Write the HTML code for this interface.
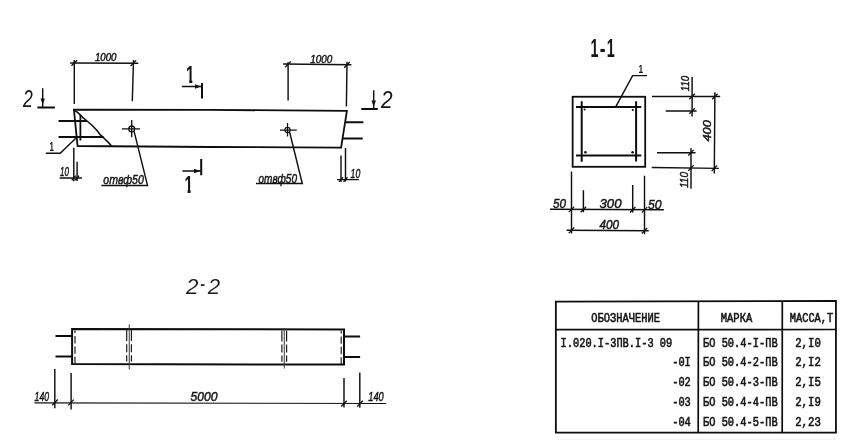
<!DOCTYPE html>
<html lang="ru">
<head>
<meta charset="utf-8">
<title>БО 50.4</title>
<style>
html,body{margin:0;padding:0;background:#fff;}
body{width:855px;height:445px;overflow:hidden;}
svg{display:block;will-change:transform;}
text{font-family:"Liberation Sans",sans-serif;fill:#151515;}
.d{font-style:italic;font-weight:normal;stroke:#151515;stroke-width:0.45;}
.L{font-style:italic;font-weight:normal;}
.m{font-family:"Liberation Mono",monospace;stroke:#151515;stroke-width:0.62;}
.K{stroke:#0d0d0d;stroke-width:2;fill:none;stroke-linecap:butt;}
.T{stroke:#111;stroke-width:1.45;fill:none;}
.t{stroke:#222;stroke-width:1;fill:none;}
</style>
</head>
<body>
<svg width="855" height="445" viewBox="0 0 855 445">
<rect x="0" y="0" width="855" height="445" fill="#fff"/>

<!-- ================= VIEW 1 : side view (top-left) ================= -->
<g id="side">
  <!-- beam outline -->
  <path class="K" d="M341.1,147.6 L210,147 L77.6,146 L73.9,109.6 L210,109.95 L346.9,110.8 Z" style="stroke-width:1.8;stroke-linejoin:miter"/>
  <!-- rebars -->
  <path class="K" d="M58.5,120.9 H87 M58.5,137.1 H103.6 M345.2,122.3 H363.4 M342.6,138.5 H362.7"/>
  <!-- end plate -->
  <path class="K" d="M80.4,115 V140.5" style="stroke-width:1.8"/>
  <!-- break curve -->
  <path class="T" d="M74,109.8 L77.2,112.2 L80.3,114.9 L83.5,118.2 L87,121 L91.7,125 L96.8,130.2 L100.4,134.9 L104,138.2 L108.3,142.4 L111.4,145.8" style="stroke-width:1.6;stroke-linejoin:round"/>
  <!-- holes -->
  <circle cx="131.7" cy="128.9" r="2.9" fill="none" stroke="#111" stroke-width="1.3"/>
  <path class="T" d="M122,128.9 H140 M131.7,119.9 V137.2" style="stroke-width:1.35"/>
  <circle cx="287.5" cy="130" r="2.6" fill="none" stroke="#111" stroke-width="1.1"/>
  <path class="T" d="M280,130 H296.8 M287.5,123 V136.4" style="stroke-width:1.25"/>
  <!-- hole leaders -->
  <path class="T" d="M134.1,131.4 L147.5,185.4 H101.4"/>
  <path class="T" d="M289.6,132 L302.3,183.5 H256"/>
  <!-- leader 1 -->
  <path class="T" d="M75.8,138.2 L60.2,153.3 H45.8"/>
  <!-- dims 1000 left -->
  <path class="T" d="M70.2,63 L138.3,63.3 M74.3,60 V104 M133.5,60 L132.3,101.3"/>
  <path class="T" style="stroke-width:1.3" d="M71.5,65.8 L77.1,60.2 M130.6,66 L136.2,60.4"/>
  <!-- dims 1000 right -->
  <path class="T" d="M283.1,64 L351.4,64.8 M288.1,62.2 V100.4 M347,61.7 L346.4,106.6"/>
  <path class="T" style="stroke-width:1.3" d="M285.2,67.2 L290.8,61.4 M344.2,67.8 L349.8,62"/>
  <!-- dim 10 left -->
  <path class="T" d="M73.8,147.8 V181.2 M77.1,161.7 V181 M59.6,177.9 H81.9"/>
  <path class="T" style="stroke-width:1.3" d="M71.8,180.2 L75.8,175.6 M75.1,180.2 L79.1,175.6"/>
  <!-- dim 10 right -->
  <path class="T" d="M341,155.6 V182 M345.5,148 V181.4 M337.1,179.6 H358.9"/>
  <path class="T" style="stroke-width:1.3" d="M339,181.9 L343,177.3 M343.5,181.9 L347.5,177.3"/>
  <!-- section marks 1 -->
  <path class="K" d="M202,83 V98.6 M201.2,159 V175.3"/>
  <path class="T" d="M181.8,86.5 H201 M182.4,171 H200.5"/>
  <path d="M201.2,86.5 L195,84.3 L195,88.7 Z M200.6,171 L194,168.8 L194,173.2 Z" fill="#111"/>
  <!-- section marks 2 -->
  <path class="K" d="M37.4,107.5 H54.9 M361.3,109.1 H377.8"/>
  <path class="T" d="M42.7,88.3 V107.4 M373.7,90.2 V109"/>
  <path d="M42.7,104.6 L40.5,98.6 L44.9,98.6 Z M373.7,106.6 L371.4,100.4 L376,100.4 Z" fill="#111"/>
  <!-- texts -->
  <text class="d" x="95" y="61" font-size="10.4" textLength="21.5" lengthAdjust="spacingAndGlyphs">1000</text>
  <text class="d" x="310.2" y="62.8" font-size="10.8" textLength="22" lengthAdjust="spacingAndGlyphs">1000</text>
  <text class="d" x="60" y="175.9" font-size="12.6" textLength="8.8" lengthAdjust="spacingAndGlyphs">10</text>
  <text class="d" x="350.6" y="178.3" font-size="12.6" textLength="9.6" lengthAdjust="spacingAndGlyphs">10</text>
  <text class="d" x="103.3" y="183.7" font-size="12" textLength="40.5" lengthAdjust="spacingAndGlyphs">отвф50</text>
  <text class="d" x="258.5" y="182.6" font-size="12" textLength="38.5" lengthAdjust="spacingAndGlyphs">отвф50</text>
  <text x="49.6" y="151" font-size="12.6" font-weight="bold" textLength="4.4" lengthAdjust="spacingAndGlyphs">1</text>
  <text class="L" x="23.1" y="106.9" font-size="24.3" textLength="9.8" lengthAdjust="spacingAndGlyphs">2</text>
  <text class="L" x="380.9" y="107.8" font-size="23.6" textLength="11.6" lengthAdjust="spacingAndGlyphs">2</text>
  <clipPath id="c1"><path d="M180,60 H200 V79.8 H192.3 V86 H189.2 V79.8 H180 Z"/></clipPath>
  <text clip-path="url(#c1)" x="186.1" y="83" font-size="23.3" font-weight="bold" textLength="8.4" lengthAdjust="spacingAndGlyphs">1</text>
  <clipPath id="c2"><path d="M178,170 H198 V190.3 H190.6 V196 H187.6 V190.3 H178 Z"/></clipPath>
  <text clip-path="url(#c2)" x="184.6" y="193.2" font-size="23.3" font-weight="bold" textLength="8.4" lengthAdjust="spacingAndGlyphs">1</text>
</g>

<!-- ================= SECTION 1-1 (top-right) ================= -->
<g id="sec11">
  <text y="57" font-size="25.3" font-weight="bold"><tspan x="590.4" textLength="8" lengthAdjust="spacingAndGlyphs">1</tspan><tspan x="599.7" textLength="5.8" lengthAdjust="spacingAndGlyphs">-</tspan><tspan x="606.8" textLength="8" lengthAdjust="spacingAndGlyphs">1</tspan></text>
  <rect class="K" x="572.65" y="96.75" width="72.55" height="70.05" style="stroke-width:1.8"/>
  <!-- stirrups -->
  <path class="K" d="M576,106.95 H641.3 M576,155.5 H641.3 M581.7,101.2 V161.8 M636.1,101.2 V161.6"/>
  <circle cx="585.4" cy="152.2" r="1.3" fill="#111"/><circle cx="632.6" cy="152.3" r="1.3" fill="#111"/>
  <circle cx="632.8" cy="110" r="1.1" fill="#111"/><circle cx="584.6" cy="109.6" r="1" fill="#111"/>
  <!-- leader -->
  <path class="T" d="M616,106.4 L632.6,75.6 H647"/>
  <text x="638.6" y="73.4" font-size="11.6" font-weight="bold" textLength="4.6" lengthAdjust="spacingAndGlyphs">1</text>
  <!-- right dims -->
  <path class="T" d="M652,96.5 H720.2 M665.7,111 H696.6 M657,152.7 H695.5 M651.7,167.5 L718.8,168.4"/>
  <path class="T" d="M692.1,77 V116.4 M691,148.2 V188.8 M714.9,92.2 L714.3,173.5"/>
  <path class="T" style="stroke-width:1.3" d="M689.4,99.3 L694.8,93.7 M689.4,113.8 L694.8,108.2 M688.3,155.5 L693.7,149.9 M688.3,170.7 L693.7,165.1 M712.2,99.3 L717.6,93.7 M711.6,171.1 L717,165.5"/>
  <text class="d" transform="translate(688.9,91.3) rotate(-90)" font-size="10.6" textLength="15.5" lengthAdjust="spacingAndGlyphs">110</text>
  <text class="d" transform="translate(688.4,188) rotate(-90)" font-size="10.6" textLength="16" lengthAdjust="spacingAndGlyphs">110</text>
  <text class="d" transform="translate(711.2,141.6) rotate(-90)" font-size="10.8" textLength="21.4" lengthAdjust="spacingAndGlyphs">400</text>
  <!-- bottom dims -->
  <path class="T" d="M571.5,171.5 V233.6 M583.4,190.2 V212.2 M632.7,185 V212.6 M644.5,175.7 V234.2"/>
  <path class="T" d="M550,209.3 L663.9,209.8 M566.6,230.2 L648.7,230.7"/>
  <path class="T" style="stroke-width:1.3" d="M568.8,212.1 L574.2,206.6 M580.7,212.2 L586.1,206.7 M630,212.5 L635.4,207 M641.8,212.6 L647.2,207.1 M568.8,233.1 L574.2,227.5 M641.8,233.5 L647.2,228"/>
  <text class="d" x="553" y="208" font-size="12.6" textLength="13" lengthAdjust="spacingAndGlyphs">50</text>
  <text class="d" x="599.5" y="208.4" font-size="12.6" textLength="22" lengthAdjust="spacingAndGlyphs">300</text>
  <text class="d" x="648" y="208.6" font-size="12.6" textLength="13.5" lengthAdjust="spacingAndGlyphs">50</text>
  <text class="d" x="599.4" y="229.4" font-size="12" textLength="19.6" lengthAdjust="spacingAndGlyphs">400</text>
</g>

<!-- ================= VIEW 2-2 (bottom-left) ================= -->
<g id="sec22">
  <text class="L" y="293.6" font-size="22.4" stroke="#fff" stroke-width="0.15"><tspan x="186">2</tspan><tspan x="199.9" dy="-2.7" textLength="5" lengthAdjust="spacingAndGlyphs">-</tspan><tspan x="207.7" dy="2.7">2</tspan></text>
  <path class="K" d="M72.1,329.1 L344,329.5 L344,364.6 L72.1,364.1 Z" style="stroke-width:2"/>
  <path class="K" d="M55.5,335.9 H72 M55.5,356.6 H72 M344,336.6 H360.1 M344,357.1 H360.1"/>
  <path class="t" d="M75,330.4 V363.5" stroke-dasharray="7.4,3" stroke-dashoffset="4.8" style="stroke:#1c1c1c;stroke-width:1.2"/>
  <path class="t" d="M341.2,330.8 V364" stroke-dasharray="7.4,3" stroke-dashoffset="4.8" style="stroke:#1c1c1c;stroke-width:1.2"/>
  <!-- holes -->
  <path class="t" d="M129.25,324.2 V369.5 M284.25,328 V368.5" style="stroke:#3a3a3a;stroke-width:1"/>
  <path class="t" d="M126.7,330 V363.4 M131.4,330 V363.4 M281.9,330.4 V363.8 M286.6,330.4 V363.8" stroke-dasharray="11,3.2,8,3,6.2,3" style="stroke:#1c1c1c;stroke-width:1.2"/>
  <!-- dims -->
  <path class="T" d="M54.8,368.9 V408.3 M71.1,372.9 V409.4 M344,377.9 V407.5 M359.8,372.6 V407.7"/>
  <path class="T" d="M34.5,402.8 L386.2,403.5" style="stroke-width:1.2"/>
  <path class="T" style="stroke-width:1.3" d="M52.2,405.3 L57.8,399.5 M68.2,405.4 L73.8,399.6 M341.2,406.5 L346.8,400.7 M357.2,406.6 L362.8,400.8"/>
  <text class="d" x="34.6" y="400.7" font-size="12.4" textLength="14.5" lengthAdjust="spacingAndGlyphs">140</text>
  <text class="d" x="190.5" y="401.2" font-size="12.4" textLength="27" lengthAdjust="spacingAndGlyphs">5000</text>
  <text class="d" x="368.3" y="401.2" font-size="12.4" textLength="15.5" lengthAdjust="spacingAndGlyphs">140</text>
</g>

<!-- ================= TABLE (bottom-right) ================= -->
<g id="tbl">
  <path d="M555.85,301.7 L835.95,300.8 L835.95,432.65 L555.85,432.7 Z" fill="none" stroke="#0d0d0d" stroke-width="1.8"/>
  <path d="M555.85,329.6 L835.95,329.5 M698.4,301 L698.2,432.6 M782.3,301 L782.2,432.6" fill="none" stroke="#0d0d0d" stroke-width="1.7"/>
  <g class="m" font-size="13">
    <text class="m" x="591.3" y="322.1" textLength="68.8" lengthAdjust="spacingAndGlyphs">ОБОЗНАЧЕНИЕ</text>
    <text class="m" x="720.8" y="322.1" textLength="31.4" lengthAdjust="spacingAndGlyphs">МАРКА</text>
    <text class="m" x="789.8" y="322.1" textLength="43.4" lengthAdjust="spacingAndGlyphs">МАССА,Т</text>
    <text class="m" x="560.6" y="346.50" textLength="111.6" lengthAdjust="spacingAndGlyphs">I.020.I-3ПВ.I-3 09</text>
    <text class="m" x="672.2" y="366.45" textLength="18.6" lengthAdjust="spacingAndGlyphs">-0I</text>
    <text class="m" x="672.2" y="386.40" textLength="18.6" lengthAdjust="spacingAndGlyphs">-02</text>
    <text class="m" x="672.2" y="406.35" textLength="18.6" lengthAdjust="spacingAndGlyphs">-03</text>
    <text class="m" x="672.2" y="426.30" textLength="18.6" lengthAdjust="spacingAndGlyphs">-04</text>
    <text class="m" x="703" y="346.50" textLength="74.6" lengthAdjust="spacingAndGlyphs">БО 50.4-I-ПВ</text>
    <text class="m" x="703" y="366.45" textLength="74.6" lengthAdjust="spacingAndGlyphs">БО 50.4-2-ПВ</text>
    <text class="m" x="703" y="386.40" textLength="74.6" lengthAdjust="spacingAndGlyphs">БО 50.4-3-ПВ</text>
    <text class="m" x="703" y="406.35" textLength="74.6" lengthAdjust="spacingAndGlyphs">БО 50.4-4-ПВ</text>
    <text class="m" x="703" y="426.30" textLength="74.6" lengthAdjust="spacingAndGlyphs">БО 50.4-5-ПВ</text>
    <text class="m" x="795.2" y="346.50" textLength="25.6" lengthAdjust="spacingAndGlyphs">2,I0</text>
    <text class="m" x="795.2" y="366.45" textLength="25.6" lengthAdjust="spacingAndGlyphs">2,I2</text>
    <text class="m" x="795.2" y="386.40" textLength="25.6" lengthAdjust="spacingAndGlyphs">2,I5</text>
    <text class="m" x="795.2" y="406.35" textLength="25.6" lengthAdjust="spacingAndGlyphs">2,I9</text>
    <text class="m" x="795.2" y="426.30" textLength="25.6" lengthAdjust="spacingAndGlyphs">2,23</text>
  </g>
  <path d="M556,439.2 H836" stroke="#ececec" stroke-width="1" fill="none"/>
</g>
</svg>
</body>
</html>
